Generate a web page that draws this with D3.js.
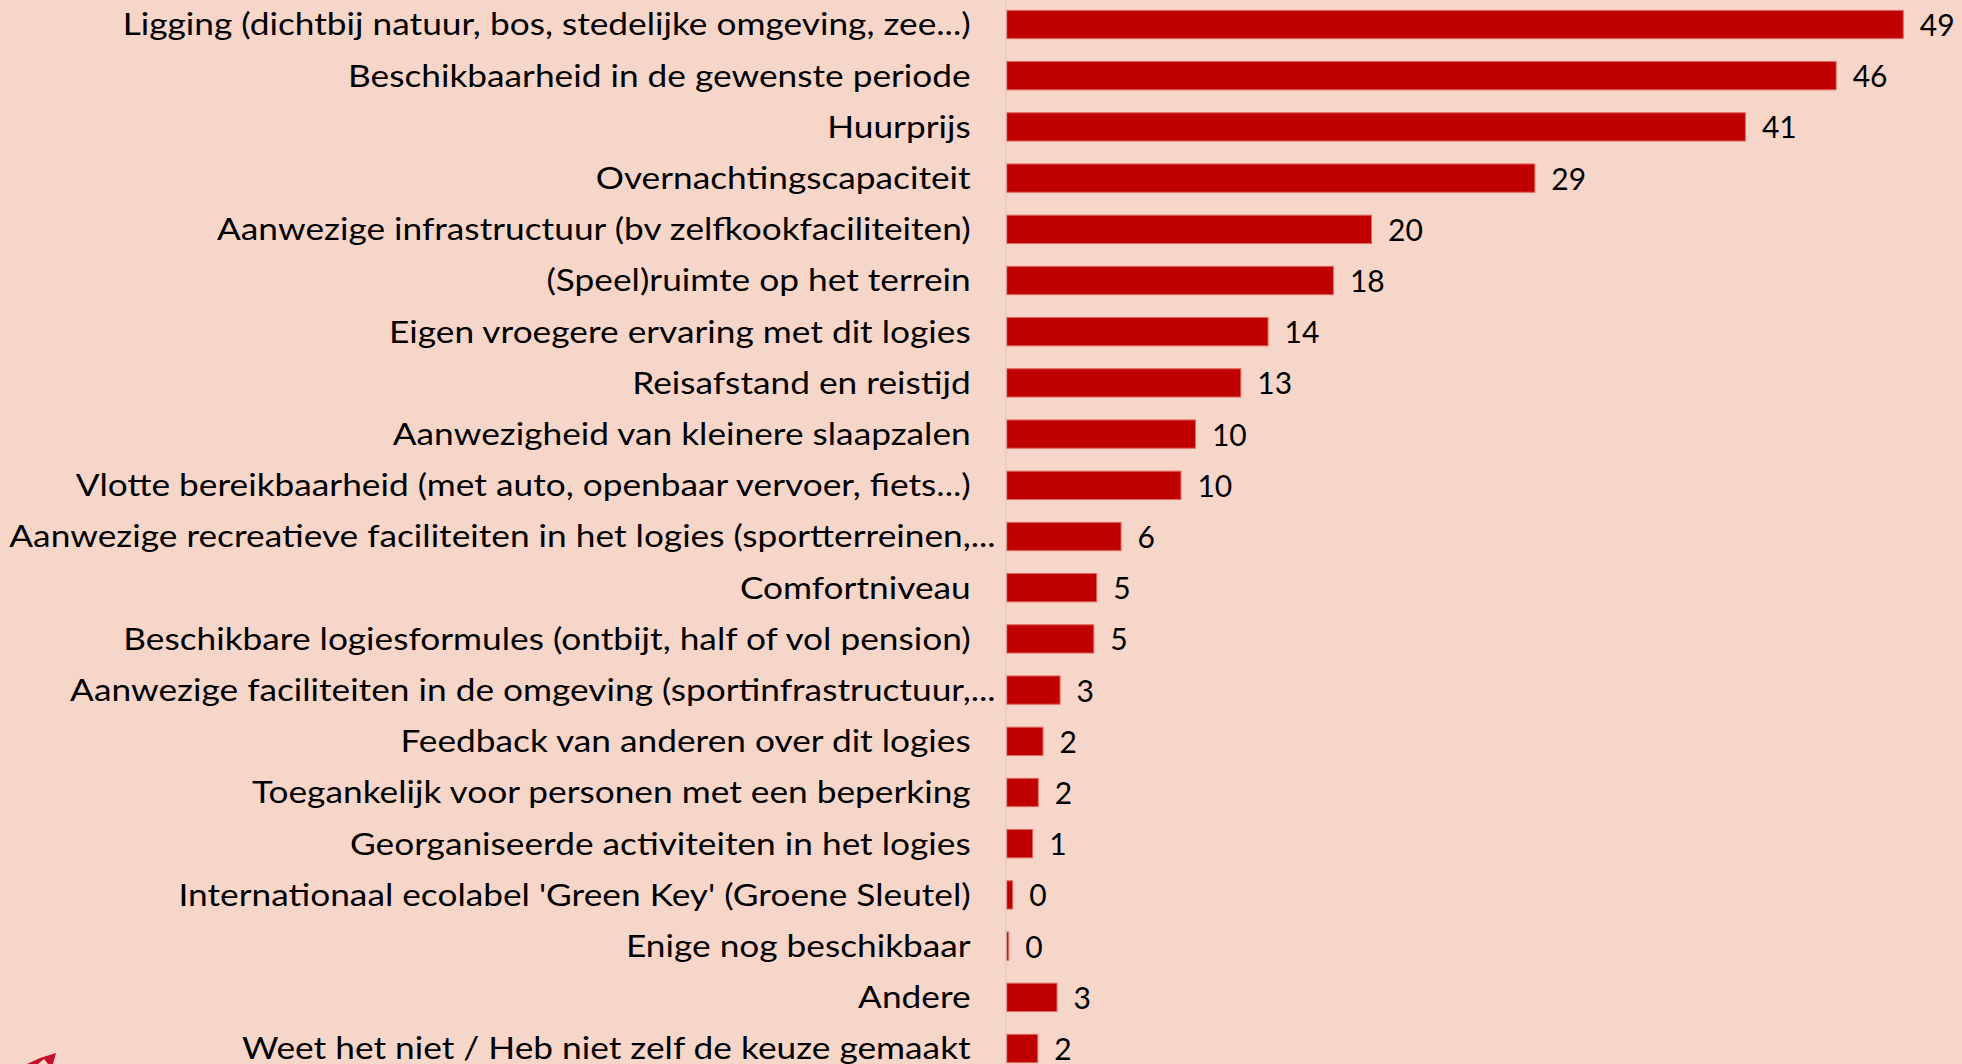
<!DOCTYPE html>
<html>
<head>
<meta charset="utf-8">
<script src="https://cdn.jsdelivr.net/npm/d3@7"></script>
<style>
  html, body { margin: 0; padding: 0; background: #F7D6CA; overflow: hidden; }
  svg { display: block; }
</style>
</head>
<body>
<div id="chart"></div>
<script>
// Categories, top to bottom as in the picture
const categories = [
    "Ligging (dichtbij natuur, bos, stedelijke omgeving, zee...)",
    "Beschikbaarheid in de gewenste periode",
    "Huurprijs",
    "Overnachtingscapaciteit",
    "Aanwezige infrastructuur (bv zelfkookfaciliteiten)",
    "(Speel)ruimte op het terrein",
    "Eigen vroegere ervaring met dit logies",
    "Reisafstand en reistijd",
    "Aanwezigheid van kleinere slaapzalen",
    "Vlotte bereikbaarheid (met auto, openbaar vervoer, fiets...)",
    "Aanwezige recreatieve faciliteiten in het logies (sportterreinen,...",
    "Comfortniveau",
    "Beschikbare logiesformules (ontbijt, half of vol pension)",
    "Aanwezige faciliteiten in de omgeving (sportinfrastructuur,...",
    "Feedback van anderen over dit logies",
    "Toegankelijk voor personen met een beperking",
    "Georganiseerde activiteiten in het logies",
    "Internationaal ecolabel 'Green Key' (Groene Sleutel)",
    "Enige nog beschikbaar",
    "Andere",
    "Weet het niet / Heb niet zelf de keuze gemaakt"
];

// Percentages (bar lengths, labels shown rounded)
const values = [49.4, 45.7, 40.7, 29.1, 20.1, 18.0, 14.4, 12.9, 10.4, 9.6,
                6.3, 4.96, 4.8, 2.94, 2.0, 1.74, 1.43, 0.33, 0.11, 2.77, 1.71];

const data = categories.map((c, i) => ({ cat: c, value: values[i] }));

const width = 1962;
const height = 1064;
const axisX = 1006.7;

const svg = d3.select("#chart")
    .append("svg")
    .attr("width", width)
    .attr("height", height);

svg.append("rect")
    .attr("width", width)
    .attr("height", height)
    .attr("fill", "#F7D6CA");

// Scales
const x = d3.scaleLinear()
    .domain([0, 50])
    .range([axisX, axisX + 18.15 * 50]);

const y = d3.scaleBand()
    .domain(categories)
    .range([-1.1, -1.1 + 51.2 * categories.length])
    .paddingInner(0.447)
    .paddingOuter(0.2235);

// Bars
svg.selectAll(".bar")
    .data(data)
    .enter()
    .append("rect")
    .attr("class", "bar")
    .attr("x", x(0))
    .attr("y", d => y(d.cat))
    .attr("width", d => x(d.value) - x(0))
    .attr("height", y.bandwidth())
    .attr("fill", "#C00000")
    .attr("stroke", "#E26A62")
    .attr("stroke-width", 1);

// Vertical category axis line
svg.append("line")
    .attr("x1", axisX - 1)
    .attr("x2", axisX - 1)
    .attr("y1", 0)
    .attr("y2", height)
    .attr("stroke", "#D6D0CE")
    .attr("stroke-width", 1.5);

// Category labels
const labels = svg.selectAll(".cat-label")
    .data(data)
    .enter()
    .append("text")
    .attr("class", "cat-label")
    .attr("x", d => d.cat.endsWith(",...") ? axisX - 11 : axisX - 36)
    .attr("y", d => y(d.cat) + y.bandwidth() / 2 + 10.8)
    .attr("text-anchor", "end")
    .style("font-family", "Lato, 'Open Sans', sans-serif")
    .style("font-size", "30px")
    .style("fill", "#000")
    .text(d => d.cat);

// Squeeze labels a bit to mimic the narrow original font
const refWidth = labels.filter((d, i) => i === 0).node().getComputedTextLength();
const k = 848 / refWidth;
labels.each(function() {
    const w = this.getComputedTextLength();
    d3.select(this).attr("textLength", w * k).attr("lengthAdjust", "spacingAndGlyphs");
});

// Value labels
svg.selectAll(".value-label")
    .data(data)
    .enter()
    .append("text")
    .attr("class", "value-label")
    .attr("x", d => x(d.value) + 16.5)
    .attr("y", d => y(d.cat) + y.bandwidth() / 2 + 11.5)
    .attr("text-anchor", "start")
    .style("font-family", "Lato, 'Open Sans', sans-serif")
    .style("font-size", "30px")
    .style("fill", "#000")
    .text(d => d3.format(".0f")(d.value));

// Fragment of the logo cut off at the bottom left
svg.append("path")
    .attr("d", "M27,1064 L40,1058 L56,1053 L53,1064 Z")
    .attr("fill", "#C8102E");
svg.append("path")
    .attr("d", "M38,1064 L44,1059 L48,1064 Z")
    .attr("fill", "#F7D6CA");
</script>
</body>
</html>
